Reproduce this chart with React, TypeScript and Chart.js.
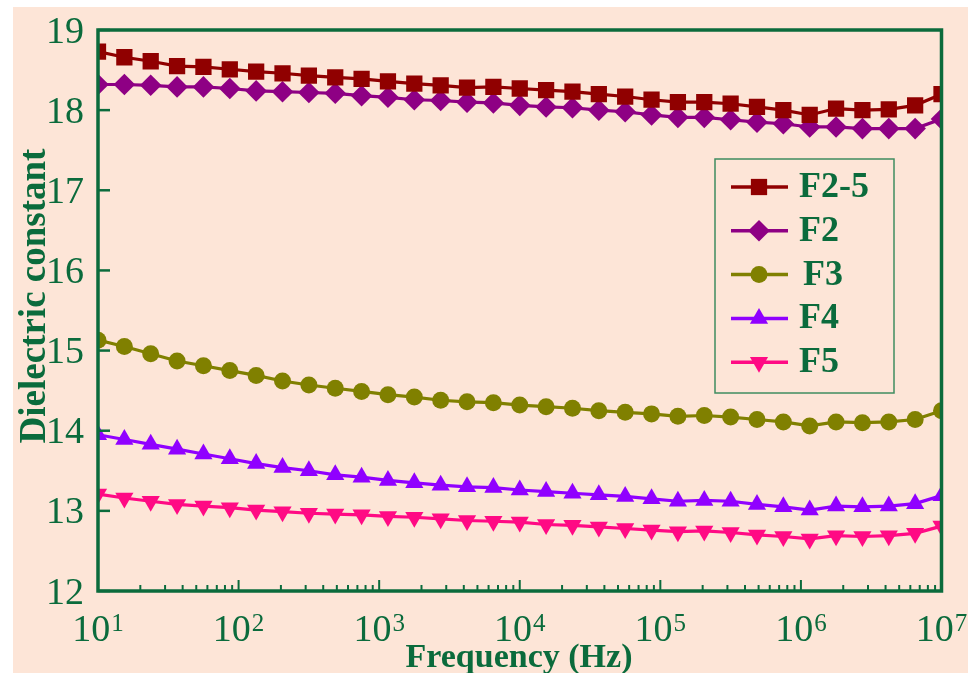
import React, { useEffect, useRef } from 'react';
import { Chart, registerables } from 'chart.js';
import { drawPoint } from 'chart.js/helpers';

Chart.register(...registerables);

// Frequency (Hz) of each measured point
const frequencies = [
  10, 15.4, 23.71, 36.52, 56.23, 86.6, 133.35, 205.35, 316.23, 486.97, 749.89,
  1154.8, 1778.3, 2738.4, 4217, 6493.8, 10000, 15399, 23714, 36517, 56234,
  86596, 133352, 205353, 316228, 486968, 749894, 1154782, 1778279, 2738420,
  4216965, 6493816, 10000000,
];

const seriesNames = ['F2-5', 'F2', 'F3', 'F4', 'F5'];

const f25 = [
  18.73, 18.66, 18.61, 18.55, 18.54, 18.51, 18.48, 18.46, 18.43, 18.41, 18.39,
  18.36, 18.33, 18.31, 18.28, 18.29, 18.27, 18.25, 18.23, 18.2, 18.17, 18.13,
  18.1, 18.1, 18.08, 18.04, 18.0, 17.94, 18.02, 18.0, 18.01, 18.06, 18.2,
];
const f2 = [
  18.32, 18.32, 18.31, 18.29, 18.29, 18.27, 18.24, 18.23, 18.22, 18.21, 18.18,
  18.16, 18.13, 18.12, 18.1, 18.09, 18.06, 18.04, 18.03, 18.0, 17.98, 17.94,
  17.91, 17.91, 17.88, 17.85, 17.83, 17.79, 17.79, 17.77, 17.77, 17.77, 17.89,
];
const f3 = [
  15.13, 15.05, 14.96, 14.87, 14.81, 14.75, 14.69, 14.62, 14.57, 14.53, 14.49,
  14.45, 14.42, 14.38, 14.36, 14.35, 14.32, 14.3, 14.28, 14.25, 14.23, 14.21,
  14.18, 14.19, 14.17, 14.14, 14.11, 14.06, 14.11, 14.1, 14.11, 14.14, 14.25,
];
const f4 = [
  13.95, 13.89, 13.83, 13.77, 13.71, 13.65, 13.59, 13.54, 13.5, 13.45, 13.42,
  13.38, 13.35, 13.32, 13.3, 13.29, 13.26, 13.24, 13.22, 13.2, 13.18, 13.15,
  13.12, 13.13, 13.12, 13.08, 13.05, 13.01, 13.06, 13.05, 13.06, 13.09, 13.19,
];
const f5 = [
  13.21, 13.16, 13.12, 13.08, 13.06, 13.04, 13.01, 12.99, 12.97, 12.96, 12.95,
  12.93, 12.92, 12.9, 12.88, 12.87, 12.86, 12.83, 12.82, 12.8, 12.78, 12.76,
  12.74, 12.75, 12.73, 12.7, 12.68, 12.65, 12.69, 12.68, 12.69, 12.72, 12.81,
];

const xDecades = [1, 2, 3, 4, 5, 6, 7];
const yMin = 12;
const yMax = 19;

const xTitle = 'Frequency (Hz)';
const yTitle = 'Dielectric constant';

const GREEN = '#0b6b3c';
const BG = '#fde5d7';
const SERIF = '"Liberation Serif", "Times New Roman", serif';

const styles = [
  { color: '#900000', pointStyle: 'rect', radius: 11.5, rotation: 0 },
  { color: '#8e0084', pointStyle: 'rectRot', radius: 10.8, rotation: 0 },
  { color: '#808000', pointStyle: 'circle', radius: 8.5, rotation: 0 },
  { color: '#9000ff', pointStyle: 'triangle', radius: 10.5, rotation: 0 },
  { color: '#ff0a84', pointStyle: 'triangle', radius: 10.5, rotation: 180 },
];

const seriesValues = [f25, f2, f3, f4, f5];

const decorPlugin = {
  id: 'decor',
  beforeDraw(chart: any) {
    const ctx = chart.ctx;
    ctx.save();
    ctx.fillStyle = '#ffffff';
    ctx.fillRect(0, 0, chart.width, chart.height);
    ctx.fillStyle = BG;
    ctx.fillRect(13, 7, chart.width - 13, chart.height - 7);
    ctx.restore();
  },
  afterDraw(chart: any) {
    const ctx = chart.ctx;
    const a = chart.chartArea;
    const xs = chart.scales.x;
    const ys = chart.scales.y;
    ctx.save();
    ctx.strokeStyle = GREEN;
    ctx.fillStyle = GREEN;
    ctx.lineCap = 'butt';

    // inward tick marks
    ctx.lineWidth = 2.5;
    for (const t of ys.ticks) {
      const py = ys.getPixelForValue(t.value);
      ctx.beginPath();
      ctx.moveTo(a.left, py);
      ctx.lineTo(a.left + 12, py);
      ctx.stroke();
    }
    ctx.lineWidth = 2;
    for (const t of xs.ticks) {
      const px = xs.getPixelForValue(t.value);
      const len = t.major ? 11 : 6;
      ctx.beginPath();
      ctx.moveTo(px, a.bottom);
      ctx.lineTo(px, a.bottom - len);
      ctx.stroke();
    }

    // frame
    ctx.lineWidth = 3.5;
    ctx.strokeRect(a.left, a.top, a.right - a.left, a.bottom - a.top);

    // y tick labels
    ctx.font = `38px ${SERIF}`;
    ctx.textAlign = 'right';
    ctx.textBaseline = 'alphabetic';
    for (const t of ys.ticks) {
      const py = ys.getPixelForValue(t.value);
      ctx.fillText(String(t.value), 84, py + 12.5);
    }

    // x tick labels (10 with superscript exponent)
    for (const t of xs.ticks) {
      if (!t.major) continue;
      const exp = Math.round(Math.log10(t.value));
      if (!xDecades.includes(exp)) continue;
      const px = xs.getPixelForValue(t.value);
      ctx.font = `38px ${SERIF}`;
      const w1 = ctx.measureText('10').width;
      ctx.font = `25px ${SERIF}`;
      const w2 = ctx.measureText(String(exp)).width;
      const start = px - (w1 + w2 + 1) / 2;
      ctx.textAlign = 'left';
      ctx.font = `38px ${SERIF}`;
      ctx.fillText('10', start, 641);
      ctx.font = `25px ${SERIF}`;
      ctx.fillText(String(exp), start + w1 + 1, 631);
    }

    // axis titles
    ctx.font = `bold 34px ${SERIF}`;
    ctx.textAlign = 'center';
    ctx.textBaseline = 'alphabetic';
    ctx.fillText(xTitle, 519, 667);

    ctx.save();
    ctx.translate(35, 296);
    ctx.rotate(-Math.PI / 2);
    ctx.font = `bold 37px ${SERIF}`;
    ctx.textBaseline = 'middle';
    ctx.fillText(yTitle, 0, 0);
    ctx.restore();

    // legend
    ctx.lineWidth = 1.5;
    ctx.strokeStyle = '#3f8c60';
    ctx.strokeRect(715, 159, 179, 234);
    chart.data.datasets.forEach((ds: any, i: number) => {
      const st = styles[i];
      const ry = 187 + i * 43.8;
      ctx.strokeStyle = st.color;
      ctx.fillStyle = st.color;
      ctx.lineWidth = 3.5;
      ctx.beginPath();
      ctx.moveTo(731, ry);
      ctx.lineTo(788, ry);
      ctx.stroke();
      drawPoint(ctx, { pointStyle: st.pointStyle, radius: st.radius, rotation: st.rotation, borderWidth: 0 } as any, 759, ry);
      ctx.fillStyle = GREEN;
      ctx.font = `bold 36px ${SERIF}`;
      ctx.textAlign = 'left';
      ctx.textBaseline = 'alphabetic';
      ctx.fillText(ds.label, i === 2 ? 803 : 799, ry + 10);
    });

    ctx.restore();
  },
};

export default function App() {
  const ref = useRef<HTMLCanvasElement>(null);
  useEffect(() => {
    if (!ref.current) return;
    const chart = new Chart(ref.current, {
      type: 'line',
      data: {
        datasets: seriesNames.map((name, i) => ({
          label: name,
          data: frequencies.map((f, j) => ({ x: f, y: seriesValues[i][j] })),
          borderColor: styles[i].color,
          backgroundColor: styles[i].color,
          pointBackgroundColor: styles[i].color,
          pointBorderColor: styles[i].color,
          pointBorderWidth: 0,
          pointStyle: styles[i].pointStyle as any,
          pointRotation: styles[i].rotation,
          pointRadius: styles[i].radius,
          pointHoverRadius: styles[i].radius,
          borderWidth: 3.2,
          tension: 0,
          fill: false,
          clip: 0,
        })),
      },
      options: {
        responsive: false,
        animation: false,
        devicePixelRatio: 1,
        layout: { padding: { left: 0, top: 30, right: 26.5, bottom: 0 } },
        plugins: {
          legend: { display: false },
          tooltip: { enabled: false },
        },
        scales: {
          x: {
            type: 'logarithmic',
            min: 10,
            max: 1e7,
            grid: { display: false },
            border: { display: false },
            ticks: { display: false },
            afterBuildTicks: (scale: any) => {
              const t: any[] = [];
              for (const e of xDecades) {
                for (let m = 1; m <= 9; m++) {
                  const v = m * Math.pow(10, e);
                  if (v > 1e7) break;
                  t.push({ value: v, major: m === 1 });
                }
              }
              scale.ticks = t;
            },
            afterFit: (scale: any) => {
              scale.height = 82;
            },
          },
          y: {
            type: 'linear',
            min: yMin,
            max: yMax,
            grid: { display: false },
            border: { display: false },
            ticks: { display: false, stepSize: 1 },
            afterFit: (scale: any) => {
              scale.width = 98;
            },
          },
        },
      },
      plugins: [decorPlugin],
    } as any);
    return () => chart.destroy();
  }, []);
  return (
    <div style={{ position: 'fixed', left: 0, top: 0, width: 968, height: 673 }}>
      <canvas ref={ref} width={968} height={673} style={{ display: 'block' }} />
    </div>
  );
}
